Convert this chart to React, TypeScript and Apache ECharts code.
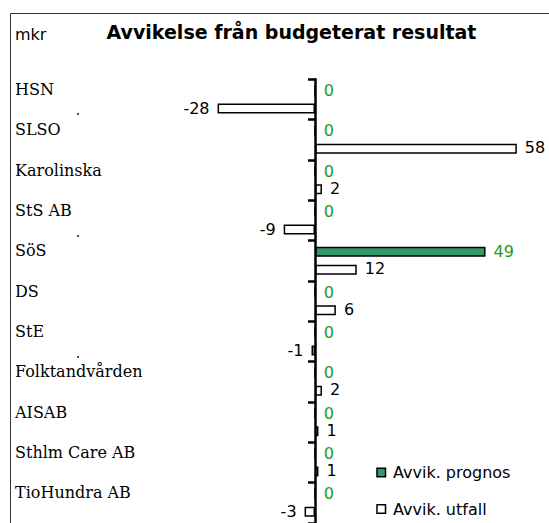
import React, { useEffect, useRef } from "react";
import * as echarts from "echarts";

const categories = [
  "HSN",
  "SLSO",
  "Karolinska",
  "StS AB",
  "SöS",
  "DS",
  "StE",
  "Folktandvården",
  "AISAB",
  "Sthlm Care AB",
  "TioHundra AB",
];
const prognos = [0, 0, 0, 0, 49, 0, 0, 0, 0, 0, 0];
const utfall = [-28, 58, 2, -9, 12, 6, -1, 2, 1, 1, -3];
const seriesNames = ["Avvik. prognos", "Avvik. utfall"];
const titleText = "Avvikelse från budgeterat resultat";
const unitText = "mkr";

const GREEN_BAR = "#339966";
const GREEN_TEXT = "#1f9a1f";
const SANS = "DejaVu Sans";
const SERIF = "DejaVu Serif";

export default function App() {
  const ref = useRef<HTMLDivElement>(null);
  useEffect(() => {
    if (!ref.current) return;
    const chart = echarts.init(ref.current, undefined, { renderer: "svg" });
    const gridLeft = 36.6;
    const legendColors = [GREEN_BAR, "#ffffff"];
    const legendGraphics: any[] = [];
    seriesNames.forEach((name, i) => {
      const cy = 472.5 + i * 36.5;
      legendGraphics.push({
        type: "rect",
        shape: { x: 377, y: cy - 4.25, width: 8.5, height: 8.5 },
        style: { fill: legendColors[i], stroke: "#000", lineWidth: 1.5 },
        silent: true,
      });
      legendGraphics.push({
        type: "text",
        x: 393,
        y: cy,
        style: { text: name, fontFamily: SANS, fontSize: 16, fill: "#000", verticalAlign: "middle" },
      });
    });
    const dotGraphics = [114, 236, 357].map((y) => ({
      type: "circle",
      shape: { cx: 78, cy: y, r: 0.9 },
      style: { fill: "#000" },
      silent: true,
    }));
    chart.setOption({
      animation: false,
      backgroundColor: "#ffffff",
      grid: { left: gridLeft, right: 25.2, top: 79.3, bottom: -5.1, containLabel: false },
      xAxis: {
        type: "value",
        min: -80,
        max: 60,
        show: false,
      },
      yAxis: [
        {
          type: "category",
          data: categories,
          inverse: true,
          position: "left",
          axisLine: { show: true, onZero: true, lineStyle: { color: "#000", width: 2.5 } },
          axisTick: { show: true, length: 7, lineStyle: { color: "#000", width: 2.5 } },
          axisLabel: { show: false },
          splitLine: { show: false },
          z: 5,
        },
        {
          type: "category",
          data: categories,
          inverse: true,
          position: "left",
          axisLine: { show: false, onZero: false },
          axisTick: { show: false },
          splitLine: { show: false },
          axisLabel: {
            show: true,
            align: "left",
            margin: gridLeft - 15,
            formatter: (v: string) => "{a|" + v + "}\n{b| }",
            rich: {
              a: { fontFamily: SERIF, fontSize: 16, color: "#000", lineHeight: 20 },
              b: { fontSize: 10, lineHeight: 20 },
            },
          },
        },
      ],
      graphic: [
        {
          type: "rect",
          shape: { x: 10.5, y: 13.5, width: 600, height: 600 },
          style: { fill: "none", stroke: "#333", lineWidth: 1 },
          silent: true,
        },
        {
          type: "text",
          x: 15,
          y: 34,
          style: { text: unitText, fontFamily: SANS, fontSize: 16, fill: "#000", verticalAlign: "middle" },
        },
        {
          type: "text",
          x: 291.5,
          y: 32,
          style: {
            text: titleText,
            fontFamily: SANS,
            fontWeight: "bold",
            fontSize: 19,
            fill: "#000",
            align: "center",
            verticalAlign: "middle",
          },
        },
        ...dotGraphics,
        ...legendGraphics,
      ],
      series: [
        {
          name: seriesNames[0],
          type: "bar",
          data: prognos,
          barWidth: 10,
          barGap: "80%",
          itemStyle: { color: GREEN_BAR, borderColor: "#000", borderWidth: 1.5 },
          label: {
            show: true,
            position: "right",
            distance: 8,
            color: GREEN_TEXT,
            fontFamily: SANS,
            fontSize: 16,
          },
        },
        {
          name: seriesNames[1],
          type: "bar",
          data: utfall.map((v) => ({
            value: v,
            label: { position: v < 0 ? "left" : "right", offset: v < 0 ? [0, 0] : [0, -1] },
          })),
          barWidth: 10,
          barGap: "80%",
          itemStyle: { color: "#ffffff", borderColor: "#000", borderWidth: 1.5 },
          label: {
            show: true,
            distance: 8,
            color: "#000",
            fontFamily: SANS,
            fontSize: 16,
          },
        },
      ],
    });
    return () => chart.dispose();
  }, []);
  return (
    <div
      ref={ref}
      style={{ position: "fixed", left: 0, top: 0, width: 549, height: 523 }}
    />
  );
}
